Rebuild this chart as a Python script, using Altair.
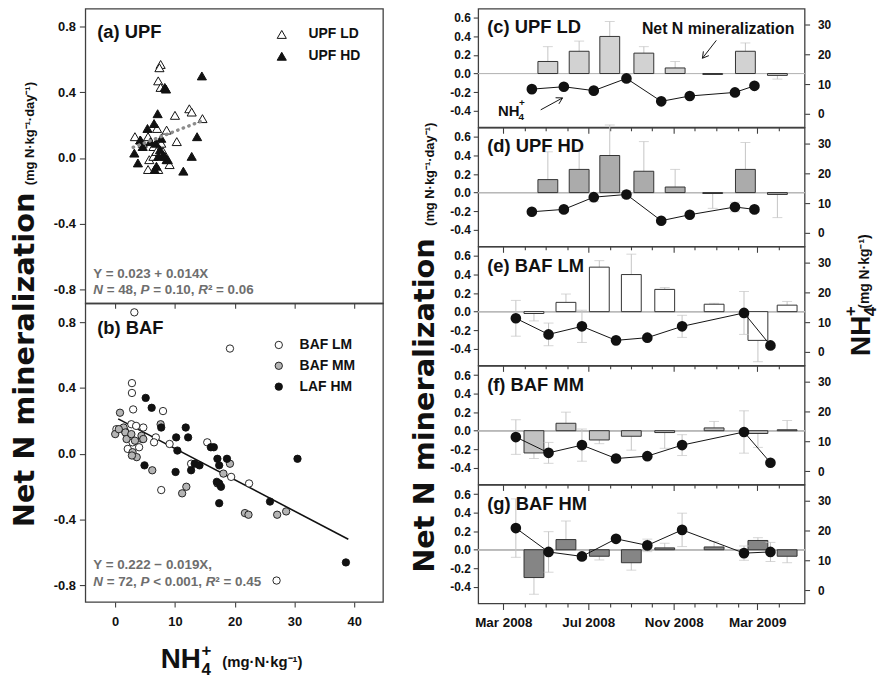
import math
import altair as alt
import pandas as pd

FONT = "Liberation Sans"
TITLE_FONT = "DejaVu Sans"
INK = "#111111"
FRAME = "#404040"
NOTE_GREY = "#6e6e6e"
WHISKER = "#c4c4c4"

# ---------------- (a) UPF: net N mineralization vs NH4+ ----------------
upf_ld_nh4 = [7.6, 7.4, 7.2, 7.6, 10.0, 12.4, 12.8, 14.6, 3.3, 5.5, 7.0, 8.6,
              10.3, 6.4, 7.7, 5.7, 6.4, 5.5, 9.1, 6.9, 4.2, 8.0, 7.2, 4.6]
upf_ld_rate = [0.57, 0.55, 0.47, 0.43, 0.26, 0.30, 0.28, 0.24, 0.13, 0.13, 0.18, 0.17,
               0.10, 0.07, 0.09, -0.01, 0.01, -0.07, -0.04, 0.04, 0.11, 0.04, -0.07, 0.09]
upf_hd_nh4 = [14.5, 8.3, 8.5, 7.1, 5.4, 6.5, 4.2, 4.6, 3.2, 3.8, 6.8, 7.5,
              7.2, 8.0, 8.6, 6.9, 6.6, 11.4, 12.8, 13.7, 7.7, 8.3, 8.8, 5.9]
upf_hd_rate = [0.50, 0.43, 0.42, 0.27, 0.18, 0.21, 0.11, 0.07, 0.03, -0.03, 0.09, 0.05,
               0.01, 0.02, -0.01, -0.05, -0.07, -0.08, 0.01, 0.13, 0.12, 0.01, -0.01, 0.10]
upf_fit_coef = [0.023, 0.014]
upf_fit_span = [3.0, 14.8]

# ---------------- (b) BAF ----------------
baf_lm_nh4 = [3.2, 19.2, 2.8, 2.8, 3.0, 8.0, 2.7, 3.5, 4.7, 6.8, 6.5, 9.1,
              15.4, 4.0, 2.1, 2.9, 7.7, 22.4, 19.4, 12.7, 0.2, 27.0, 4.5, 1.6]
baf_lm_rate = [0.86, 0.64, 0.43, 0.37, 0.27, 0.26, 0.18, 0.17, 0.16, 0.10, 0.07, 0.06,
               0.07, 0.04, 0.03, 0.07, -0.22, -0.18, -0.14, -0.06, 0.15, -0.77, 0.09, 0.14]
baf_mm_nh4 = [0.8, 0.0, 1.4, 1.7, 1.9, 2.7, 2.9, 3.6, 4.4, 6.2, 7.6, 11.9,
              11.2, 18.1, 17.1, 19.2, 21.7, 22.3, 27.1, 28.6, 0.6, 3.3, 2.8, 4.7]
baf_mm_rate = [0.25, 0.12, 0.16, 0.13, 0.09, 0.12, 0.01, -0.02, 0.11, -0.10, 0.18, -0.20,
               -0.24, -0.12, -0.18, -0.06, -0.36, -0.37, -0.37, -0.35, 0.15, 0.08, -0.01, 0.09]
baf_hm_nh4 = [5.1, 6.1, 7.7, 10.2, 11.8, 12.2, 10.4, 4.9, 10.1, 12.7, 13.3, 14.1,
              16.0, 16.5, 17.1, 18.7, 17.4, 17.4, 17.7, 17.4, 25.9, 30.5, 38.6, 17.0]
baf_hm_rate = [0.34, 0.28, 0.16, 0.10, 0.16, 0.10, 0.02, -0.07, -0.11, -0.10, -0.06, -0.07,
               0.04, 0.04, -0.03, -0.03, -0.07, -0.18, -0.20, -0.30, -0.29, -0.03, -0.66, -0.17]
baf_fit_coef = [0.222, -0.019]
baf_fit_span = [0.5, 39.0]

# ---------------- (c)-(g) seasonal series ----------------
upf_flux_dates = ["2008-05-04", "2008-06-18", "2008-08-01", "2008-09-19",
                  "2008-11-03", "2008-12-27", "2009-02-12", "2009-03-30"]
upf_pool_dates = ["2008-04-11", "2008-05-27", "2008-07-09", "2008-08-25",
                  "2008-10-14", "2008-11-24", "2009-01-28", "2009-02-25"]
baf_flux_dates = ["2008-04-14", "2008-05-30", "2008-07-17", "2008-09-01",
                  "2008-10-19", "2008-12-29", "2009-03-02", "2009-04-13"]
baf_pool_dates = ["2008-03-19", "2008-05-05", "2008-06-22", "2008-08-10",
                  "2008-09-24", "2008-11-13", "2009-02-10", "2009-03-20"]

upf_ld_flux = [0.13, 0.24, 0.40, 0.22, 0.06, -0.01, 0.24, -0.02]
upf_ld_flux_se = [0.16, 0.11, 0.16, 0.07, 0.07, 0.00, 0.09, 0.04]
upf_ld_pool = [8.3, 9.1, 7.8, 11.9, 4.2, 6.0, 7.2, 9.4]
upf_ld_pool_se = [0.4, 0.4, 0.4, 1.2, 0.5, 0.4, 0.5, 0.6]

upf_hd_flux = [0.14, 0.25, 0.40, 0.23, 0.06, -0.01, 0.25, -0.02]
upf_hd_flux_se = [0.30, 0.22, 0.33, 0.32, 0.19, 0.16, 0.29, 0.25]
upf_hd_pool = [7.1, 7.9, 12.0, 12.9, 4.1, 6.1, 8.7, 7.9]
upf_hd_pool_se = [0.5, 0.5, 1.5, 1.3, 0.6, 0.5, 1.6, 0.6]

baf_lm_flux = [-0.02, 0.10, 0.48, 0.40, 0.24, 0.08, -0.31, 0.07]
baf_lm_flux_se = [0.08, 0.09, 0.07, 0.22, 0.02, 0.01, 0.23, 0.04]
baf_lm_pool = [11.3, 5.9, 8.6, 3.9, 4.8, 8.6, 13.1, 2.2]
baf_lm_pool_se = [6.0, 3.8, 5.4, 0.6, 0.7, 3.7, 7.2, 0.5]

baf_mm_flux = [-0.24, 0.08, -0.10, -0.06, -0.02, 0.03, -0.03, 0.01]
baf_mm_flux_se = [0.06, 0.12, 0.04, 0.15, 0.17, 0.07, 0.15, 0.10]
baf_mm_pool = [11.4, 6.1, 8.7, 4.2, 5.0, 8.7, 13.1, 2.8]
baf_mm_pool_se = [5.8, 3.5, 5.4, 0.5, 0.8, 3.5, 7.1, 0.5]

baf_hm_flux = [-0.30, 0.11, -0.07, -0.14, 0.02, 0.03, 0.10, -0.07]
baf_hm_flux_se = [0.18, 0.20, 0.04, 0.08, 0.05, 0.06, 0.03, 0.07]
baf_hm_pool = [20.8, 12.8, 11.3, 17.2, 15.0, 20.2, 12.4, 12.8]
baf_hm_pool_se = [9.8, 6.8, 1.0, 0.8, 2.1, 5.6, 2.4, 3.2]

RATE_TICKS = [-0.4, -0.2, 0.0, 0.2, 0.4, 0.6]
POOL_TICKS = [0, 10, 20, 30]
SCAT_Y_TICKS = [-0.8, -0.4, 0.0, 0.4, 0.8]
SCAT_X_TICKS = [0, 10, 20, 30, 40]

# advance widths (em) of Liberation Sans Bold, used to chain mixed-style runs
ADVANCE = {" ": 0.278, "=": 0.584, "<": 0.584, ",": 0.278, ".": 0.278, "²": 0.333,
           "N": 0.722, "P": 0.667, "R": 0.722}


def run_width(text, size):
    return sum(ADVANCE.get(ch, 0.556) for ch in text) * size


def signed(fmt):
    return f"(datum.value < 0 ? '-' : '') + format(abs(datum.value), '{fmt}')"


def note(text, x, y, size, color=INK, angle=0, align="left", weight="bold",
         baseline="alphabetic", font=FONT, style="normal"):
    return alt.Chart(pd.DataFrame({"t": [text]})).mark_text(
        font=font, fontSize=size, fontWeight=weight, color=color, angle=angle,
        align=align, baseline=baseline, fontStyle=style,
    ).encode(x=alt.value(x), y=alt.value(y), text="t:N")


def stat_line(runs, x, y, size=13.5):
    """Statistics line whose single-letter symbols are set in italics."""
    parts = []
    for text in runs:
        body = text.lstrip(" ")
        x += run_width(text[: len(text) - len(body)], size)
        italic = body in ("N", "P", "R")
        parts.append(note(body, x, y, size, color=NOTE_GREY,
                          style="italic" if italic else "normal"))
        x += run_width(body, size)
    return parts


def segment(x1, y1, x2, y2, color=INK, width=1.0):
    return alt.Chart(pd.DataFrame({"k": [0]})).mark_rule(
        color=color, strokeWidth=width
    ).encode(x=alt.value(x1), y=alt.value(y1), x2=alt.value(x2), y2=alt.value(y2))


def arrow(tail, tip, head=7.0):
    dx, dy = tail[0] - tip[0], tail[1] - tip[1]
    n = math.hypot(dx, dy)
    ux, uy = dx / n, dy / n
    parts = [segment(tail[0], tail[1], tip[0], tip[1])]
    for a in (math.radians(30), -math.radians(30)):
        hx = ux * math.cos(a) - uy * math.sin(a)
        hy = ux * math.sin(a) + uy * math.cos(a)
        parts.append(segment(tip[0], tip[1], tip[0] + head * hx, tip[1] + head * hy))
    return parts


# ---------------- scatter panels ----------------
X_SCAT = alt.Scale(domain=[-5, 44.8], nice=False, zero=False)
SCAT_Y_AXIS = alt.Axis(values=SCAT_Y_TICKS, labelExpr=signed(".1f"), tickSize=6,
                       labelPadding=4, labelFontSize=13, title=None)


def fit_frame(coef, span):
    return pd.DataFrame({"nh4": span, "rate": [coef[0] + coef[1] * v for v in span]})


upf = pd.DataFrame({
    "nh4": upf_ld_nh4 + upf_hd_nh4,
    "rate": upf_ld_rate + upf_hd_rate,
    "plot": ["UPF LD"] * len(upf_ld_nh4) + ["UPF HD"] * len(upf_hd_nh4),
})
xa = alt.X("nh4:Q", scale=X_SCAT,
           axis=alt.Axis(values=SCAT_X_TICKS, labels=False, tickSize=5, title=None))
ya = alt.Y("rate:Q", scale=alt.Scale(domain=[-0.885, 0.91], nice=False, zero=False),
           axis=SCAT_Y_AXIS)
pts_a = alt.Chart(upf).mark_point(
    shape="triangle-up", filled=True, size=85, stroke=INK, strokeWidth=1, opacity=1
).encode(
    x=xa, y=ya,
    fill=alt.Fill("plot:N", scale=alt.Scale(domain=["UPF LD", "UPF HD"], range=["white", INK]),
                  legend=alt.Legend(title=None, orient="none", legendX=191, legendY=19,
                                    symbolType="triangle-up", symbolSize=85,
                                    symbolStrokeColor=INK, symbolStrokeWidth=1,
                                    labelFont=FONT, labelFontSize=14, labelFontWeight="bold",
                                    labelColor=INK, labelOffset=20, rowPadding=8, padding=0)),
)
fit_a = alt.Chart(fit_frame(upf_fit_coef, upf_fit_span)).mark_line(
    color="#8c8c8c", strokeWidth=3.4, strokeDash=[0.5, 5.5], strokeCap="round"
).encode(x=xa, y=ya)
panel_a = alt.layer(
    pts_a, fit_a,
    note("(a) UPF", 12, 30, 18.5),
    note("Y = 0.023 + 0.014X", 8, 272, 13.5, color=NOTE_GREY),
    *stat_line(["N", " = 48, ", "P", " = 0.10, ", "R", "² = 0.06"], 8, 288),
).properties(width=300, height=297)

baf = pd.DataFrame({
    "nh4": baf_lm_nh4 + baf_mm_nh4 + baf_hm_nh4,
    "rate": baf_lm_rate + baf_mm_rate + baf_hm_rate,
    "plot": ["BAF LM"] * len(baf_lm_nh4) + ["BAF MM"] * len(baf_mm_nh4) + ["LAF HM"] * len(baf_hm_nh4),
})
xb = alt.X("nh4:Q", scale=X_SCAT,
           axis=alt.Axis(values=SCAT_X_TICKS, tickSize=5, labelPadding=9, labelFontSize=13,
                         title=None))
yb = alt.Y("rate:Q", scale=alt.Scale(domain=[-0.9, 0.915], nice=False, zero=False),
           axis=SCAT_Y_AXIS)
pts_b = alt.Chart(baf).mark_point(
    shape="circle", filled=True, size=55, stroke=INK, strokeWidth=0.9, opacity=1
).encode(
    x=xb, y=yb,
    fill=alt.Fill("plot:N",
                  scale=alt.Scale(domain=["BAF LM", "BAF MM", "LAF HM"],
                                  range=["white", "#b4b4b4", INK]),
                  legend=alt.Legend(title=None, orient="none", legendX=188, legendY=35,
                                    symbolType="circle", symbolSize=55,
                                    symbolStrokeColor=INK, symbolStrokeWidth=0.9,
                                    labelFont=FONT, labelFontSize=14, labelFontWeight="bold",
                                    labelColor=INK, labelOffset=14, rowPadding=7, padding=0)),
)
fit_b = alt.Chart(fit_frame(baf_fit_coef, baf_fit_span)).mark_line(
    color=INK, strokeWidth=1.6
).encode(x=xb, y=yb)
panel_b = alt.layer(
    fit_b, pts_b,
    note("(b) BAF", 12, 31, 18.5),
    note("Y = 0.222 − 0.019X,", 8, 268, 13.5, color=NOTE_GREY),
    *stat_line(["N", " = 72, ", "P", " < 0.001, ", "R", "² = 0.45"], 8, 285),
    # shared y title of the two scatter panels
    note("Net N mineralization", -52, 57, 29, angle=270, align="center", font=TITLE_FONT),
    note("(mg N·kg⁻¹·day⁻¹)", -52, -171, 13, angle=270, align="center"),
    # x title
    note("NH", 76, 368, 28),
    note("4", 117, 375, 17),
    note("+", 117, 356, 17),
    note("(mg·N·kg⁻¹)", 138, 367, 15),
).properties(width=300, height=301)

left = alt.vconcat(panel_a, panel_b, spacing=0, bounds="flush").resolve_scale(
    x="independent", y="independent", fill="independent")

# ---------------- time-series panels ----------------
X_TIME = alt.Scale(type="utc", domain=[alt.DateTime(year=2008, month=2, date=1, utc=True),
                                       alt.DateTime(year=2009, month=5, date=1, utc=True)])
MONTHS = [alt.DateTime(year=2008 + (m - 1) // 12, month=(m - 1) % 12 + 1, date=1, utc=True)
          for m in range(3, 17)]
Y_RATE = alt.Scale(domain=[-0.58, 0.70], nice=False, zero=False)
Y_POOL = alt.Scale(domain=[-4.5, 35.3], nice=False, zero=False)
RATE_AXIS = alt.Axis(values=RATE_TICKS, labelExpr=signed(".1f"), tickSize=5, labelPadding=3,
                     labelFontSize=12, title=None)
POOL_AXIS = alt.Axis(orient="right", values=POOL_TICKS, tickSize=5, labelPadding=8,
                     labelFontSize=12, title=None)


def time_axis(show_labels):
    return alt.Axis(
        values=MONTHS, title=None,
        tickSize={"condition": {"test": "utcmonth(datum.value) % 4 == 2", "value": 6}, "value": 3.5},
        labels=show_labels,
        labelExpr="utcmonth(datum.value) % 4 == 2 ? utcFormat(datum.value, '%b %Y') : ''",
        labelOverlap=False, labelFlush=False, labelFontSize=13.5, labelPadding=6,
    )


def series_panel(tag, flux_dates, flux, flux_se, pool_dates, pool, pool_se, bar_fill,
                 last=False, extras=()):
    fl = pd.DataFrame({"date": flux_dates, "rate": flux, "se": flux_se})
    fl["tip"] = [r + e if r >= 0 else r - e for r, e in zip(flux, flux_se)]
    po = pd.DataFrame({"date": pool_dates, "nh4": pool, "se": pool_se})
    po["lo"] = po["nh4"] - po["se"]
    po["hi"] = po["nh4"] + po["se"]

    x = alt.X("date:T", scale=X_TIME, axis=time_axis(last))

    def yr(f):
        return alt.Y(f, scale=Y_RATE, axis=RATE_AXIS)

    def yp(f):
        return alt.Y(f, scale=Y_POOL, axis=POOL_AXIS)

    bf = alt.Chart(fl)
    rate_layer = alt.layer(
        bf.mark_rule(color="#b8b8b8", strokeWidth=1).encode(y=yr("z:Q")).transform_calculate(z="0"),
        bf.mark_rule(color=WHISKER, strokeWidth=1).encode(x=x, y=yr("rate:Q"), y2="tip:Q"),
        bf.mark_tick(orient="horizontal", size=10, thickness=1, color=WHISKER).encode(x=x, y=yr("tip:Q")),
        bf.mark_bar(size=20, fill=bar_fill, stroke="#333333", strokeWidth=1).encode(
            x=x, y=yr("rate:Q"), y2=alt.datum(0)),
    )
    bp = alt.Chart(po)
    pool_layer = alt.layer(
        bp.mark_rule(color=WHISKER, strokeWidth=1).encode(x=x, y=yp("lo:Q"), y2="hi:Q"),
        bp.mark_tick(orient="horizontal", size=10, thickness=1, color=WHISKER).encode(x=x, y=yp("lo:Q")),
        bp.mark_tick(orient="horizontal", size=10, thickness=1, color=WHISKER).encode(x=x, y=yp("hi:Q")),
        bp.mark_line(color=INK, strokeWidth=1).encode(x=x, y=yp("nh4:Q")),
        bp.mark_circle(size=115, color=INK, opacity=1).encode(x=x, y=yp("nh4:Q")),
    )
    return alt.layer(
        rate_layer, pool_layer, note(tag, 9, 25, 18.5), *extras
    ).resolve_scale(y="independent").properties(width=329, height=119.6)


c_extras = [
    note("Net N mineralization", 165, 26, 16),
    *arrow((240, 32), (226, 50)),
    note("NH", 20, 108, 15),
    note("4", 40.5, 112, 10),
    note("+", 41, 98, 10),
    *arrow((63, 102), (85, 90)),
]
e_extras = [
    # y titles of the seasonal panels
    note("Net N mineralization", -45, 160, 29, angle=270, align="center", font=TITLE_FONT),
    note("(mg N·kg⁻¹·day⁻¹)", -45, -73, 13, angle=270, align="center"),
    note("NH", 395, 110, 28, angle=270),
    note("4", 401, 70, 17, angle=270),
    note("+", 381, 70, 17, angle=270),
    note("(mg N·kg⁻¹)", 394, 25, 14, angle=270, align="center"),
]

pc = series_panel("(c) UPF LD", upf_flux_dates, upf_ld_flux, upf_ld_flux_se,
                  upf_pool_dates, upf_ld_pool, upf_ld_pool_se, "#d2d2d2", extras=c_extras)
pd_ = series_panel("(d) UPF HD", upf_flux_dates, upf_hd_flux, upf_hd_flux_se,
                   upf_pool_dates, upf_hd_pool, upf_hd_pool_se, "#ababab")
pe = series_panel("(e) BAF LM", baf_flux_dates, baf_lm_flux, baf_lm_flux_se,
                  baf_pool_dates, baf_lm_pool, baf_lm_pool_se, "white", extras=e_extras)
pf = series_panel("(f) BAF MM", baf_flux_dates, baf_mm_flux, baf_mm_flux_se,
                  baf_pool_dates, baf_mm_pool, baf_mm_pool_se, "#c2c2c2")
pg = series_panel("(g) BAF HM", baf_flux_dates, baf_hm_flux, baf_hm_flux_se,
                  baf_pool_dates, baf_hm_pool, baf_hm_pool_se, "#858585", last=True)

right = alt.vconcat(pc, pd_, pe, pf, pg, spacing=0, bounds="flush").resolve_scale(
    x="independent", y="independent")

chart = alt.hconcat(left, right, spacing=26).properties(
    padding={"left": 10, "top": 5, "right": 2, "bottom": 0}
).configure(
    background="white", font=FONT
).configure_view(
    stroke=FRAME, strokeWidth=1.3
).configure_axis(
    labelFont=FONT, labelFontWeight="bold", labelColor=INK, tickColor=FRAME,
    tickWidth=1.1, domain=False, grid=False
)

chart.save("out.html", embed_options={"renderer": "svg", "actions": False})
